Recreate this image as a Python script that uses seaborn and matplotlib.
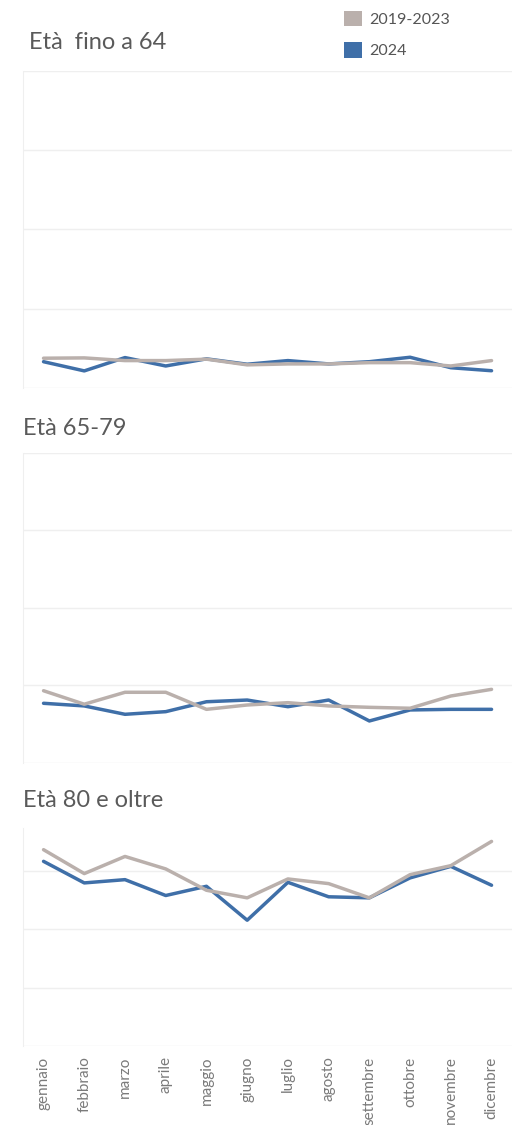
import pandas as pd
import matplotlib.pyplot as plt
import seaborn as sns
from matplotlib.patches import Patch

sns.set_style("white")
plt.rcParams['font.family'] = ['Lato', 'DejaVu Sans']

# Data (unità arbitrarie)
mesi = ["gennaio", "febbraio", "marzo", "aprile", "maggio", "giugno",
        "luglio", "agosto", "settembre", "ottobre", "novembre", "dicembre"]
periodi = ["2019-2023", "2024"]

fino64_storico = [188, 190, 173, 173, 182, 146, 152, 152, 160, 160, 139, 173]
fino64_2024 = [166, 108, 192, 139, 184, 150, 173, 152, 166, 194, 128, 109]

eta6579_storico = [466, 379, 456, 456, 346, 374, 389, 368, 359, 353, 432, 475]
eta6579_2024 = [385, 368, 314, 331, 395, 406, 363, 406, 271, 342, 346, 346]

eta80_storico = [1684, 1479, 1626, 1519, 1336, 1271, 1433, 1393, 1271, 1470, 1547, 1755]
eta80_2024 = [1584, 1399, 1427, 1291, 1370, 1079, 1404, 1280, 1271, 1442, 1541, 1379]

titoli = ["Età  fino a 64", "Età 65-79", "Età 80 e oltre"]

colori = {"2019-2023": "#bab0ac", "2024": "#3f6fa8"}
grid_col = "#efefef"


def make_df(storico, nuovo):
    return pd.DataFrame({
        "mese": mesi * 2,
        "valore": storico + nuovo,
        "periodo": ["2019-2023"] * 12 + ["2024"] * 12,
    })


pannelli = [
    (make_df(fino64_storico, fino64_2024), [0.045, 0.6551, 0.949, 0.2818], 2000, [0, 500, 1000, 1500, 2000]),
    (make_df(eta6579_storico, eta6579_2024), [0.045, 0.3218, 0.949, 0.2756], 2000, [0, 500, 1000, 1500, 2000]),
    (make_df(eta80_storico, eta80_2024), [0.045, 0.0702, 0.949, 0.1938], 1870, [0, 500, 1000, 1500]),
]
title_y = [0.9618, 0.6195, 0.2885]

fig = plt.figure(figsize=(5.15, 11.25), dpi=100)

for i, (df, pos, ymax, ticks) in enumerate(pannelli):
    ax = fig.add_axes(pos)
    sns.lineplot(data=df, x="mese", y="valore", hue="periodo",
                 hue_order=["2024", "2019-2023"], palette=colori,
                 sort=False, linewidth=2.5, legend=False, ax=ax)
    ax.set_xlim(-0.5, 11.5)
    ax.set_ylim(0, ymax)
    ax.set_yticks(ticks)
    ax.yaxis.grid(True, color=grid_col, linewidth=1)
    ax.set_axisbelow(True)
    ax.tick_params(axis="y", left=False, labelleft=False)
    ax.set_xlabel("")
    ax.set_ylabel("")
    for s in ["top", "right", "bottom"]:
        ax.spines[s].set_visible(False)
    ax.spines["left"].set_color(grid_col)
    if i < 2:
        ax.tick_params(axis="x", bottom=False, labelbottom=False)
    else:
        ax.tick_params(axis="x", bottom=False, labelrotation=90,
                       labelsize=11, labelcolor="#7a7a7a", pad=4)
    fig.text(0.056 if i == 0 else 0.045, title_y[i], titoli[i], fontsize=17,
             fontweight="normal", color="#5a5a5a", va="center", ha="left")

handles = [Patch(facecolor=colori[p], edgecolor="none") for p in periodi]
fig.legend(handles, periodi, loc="upper left", bbox_to_anchor=(0.64, 1.003),
           frameon=False, fontsize=11.5, handlelength=1.1, handleheight=1.1,
           handletextpad=0.5, labelspacing=0.95, labelcolor="#555555")

fig.savefig("out.png", dpi=100)
